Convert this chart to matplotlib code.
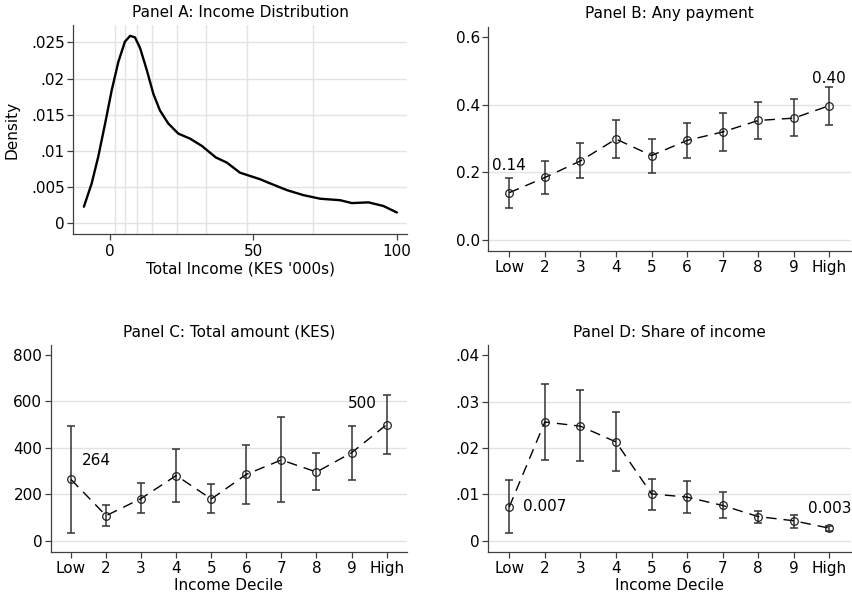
import matplotlib
matplotlib.use("Agg")
import matplotlib.pyplot as plt
import numpy as np

plt.rcParams['font.family'] = ['DejaVu Sans']

W, H = 853, 598

# Panel A: kernel density of income
dens_x = [-9.1, -6.4, -4.1, -1.7, 0.6, 2.9, 5.2, 7.0, 8.7, 10.5, 12.8, 15.1, 17.4,
          20.3, 23.8, 27.9, 32.0, 36.9, 40.7, 45.3, 52.3, 54.7, 61.6, 67.4, 73.3,
          80.2, 84.3, 90.1, 95.3, 100.0]
dens_y = [0.0023, 0.0055, 0.0092, 0.0138, 0.0184, 0.0223, 0.0251, 0.0259, 0.0257,
          0.0242, 0.0212, 0.0179, 0.0156, 0.0138, 0.0124, 0.0117, 0.0107, 0.0091,
          0.0084, 0.0070, 0.0061, 0.0057, 0.0046, 0.0039, 0.0034, 0.0032, 0.0028,
          0.0029, 0.0024, 0.0015]
decile_cuts = [1.7, 5.4, 9.3, 14.8, 23.5, 33.4, 47.6, 70.9]

deciles = ['Low', '2', '3', '4', '5', '6', '7', '8', '9', 'High']

# Panel B: any payment
b_mean = [0.140, 0.185, 0.234, 0.299, 0.250, 0.295, 0.320, 0.354, 0.361, 0.398]
b_hi = [0.183, 0.233, 0.286, 0.355, 0.300, 0.347, 0.376, 0.410, 0.417, 0.453]
b_lo = [0.096, 0.137, 0.183, 0.244, 0.199, 0.242, 0.263, 0.299, 0.307, 0.341]

# Panel C: total amount (KES)
c_mean = [264, 108, 182, 281, 180, 286, 348, 296, 379, 500]
c_hi = [494, 154, 247, 394, 243, 414, 533, 376, 496, 628]
c_lo = [33, 65, 118, 168, 121, 158, 165, 217, 260, 372]

# Panel D: share of income
d_mean = [0.0073, 0.0256, 0.0247, 0.0213, 0.0101, 0.0094, 0.0076, 0.0052, 0.0043, 0.0027]
d_hi = [0.0130, 0.0338, 0.0324, 0.0278, 0.0134, 0.0128, 0.0105, 0.0065, 0.0055, 0.0031]
d_lo = [0.0017, 0.0175, 0.0172, 0.0150, 0.0067, 0.0060, 0.0049, 0.0038, 0.0028, 0.0022]

SPINE = '#404040'
GRID = '#e3e3e3'
FS = 11

fig = plt.figure(figsize=(W / 100, H / 100), dpi=100)


def add_ax(left, right, top, bottom):
    return fig.add_axes([left / W, 1 - bottom / H, (right - left) / W, (bottom - top) / H])


def style(ax):
    for s in ['top', 'right']:
        ax.spines[s].set_visible(False)
    for s in ['left', 'bottom']:
        ax.spines[s].set_color(SPINE)
        ax.spines[s].set_linewidth(0.9)
    ax.tick_params(axis='both', colors=SPINE, labelcolor='black', labelsize=FS,
                   length=4, width=0.9, direction='out')
    ax.tick_params(axis='y', pad=2)
    ax.tick_params(axis='x', pad=3)
    ax.set_facecolor('white')


def hgrid(ax, vals):
    for v in vals:
        ax.axhline(v, color=GRID, lw=1.0, zorder=0)


# ---------- Panel A ----------
axA = add_ax(73, 407.5, 25, 234)
style(axA)
for c in decile_cuts:
    axA.axvline(c, color=GRID, lw=1.0, zorder=0)
yt = [0, 0.005, 0.01, 0.015, 0.02, 0.025]
hgrid(axA, yt)
axA.plot(dens_x, dens_y, color='black', lw=1.7, solid_joinstyle='round',
         solid_capstyle='round', zorder=3)
axA.set_xlim(-12.9, 103.7)
axA.set_ylim(-0.00147, 0.0274)
axA.set_xticks([0, 50, 100])
axA.set_yticks(yt)
axA.set_yticklabels(['0', '.005', '.01', '.015', '.02', '.025'])
axA.set_xlabel("Total Income (KES '000s)", fontsize=FS, labelpad=2)
axA.set_ylabel('Density', fontsize=FS, labelpad=8)
axA.set_title('Panel A: Income Distribution', fontsize=FS, pad=6)

pos = np.arange(1, 11)


def panel(ax, mean, lo, hi, yticks, yticklabels, ylim, title, xlabel=None):
    style(ax)
    hgrid(ax, yticks[:-1])
    mean = np.array(mean, dtype=float)
    err = [mean - np.array(lo), np.array(hi) - mean]
    ax.errorbar(pos, mean, yerr=err, fmt='none', ecolor='#333333', elinewidth=1.1,
                capsize=3.2, capthick=1.1, zorder=2)
    ax.plot(pos, mean, color='black', lw=1.0, linestyle=(0, (7.5, 5)), zorder=3)
    ax.plot(pos, mean, linestyle='none', marker='o', markersize=5.5,
            markerfacecolor='none', markeredgecolor='#222222', markeredgewidth=0.9, zorder=4)
    ax.set_xlim(0.41, 10.6)
    ax.set_ylim(*ylim)
    ax.set_xticks(pos)
    ax.set_xticklabels(deciles)
    ax.set_yticks(yticks)
    ax.set_yticklabels(yticklabels)
    ax.set_title(title, fontsize=FS, pad=6)
    if xlabel:
        ax.set_xlabel(xlabel, fontsize=FS, labelpad=1)


axB = add_ax(488.3, 850.7, 26.7, 250.7)
panel(axB, b_mean, b_lo, b_hi, [0.0, 0.2, 0.4, 0.6], ['0.0', '0.2', '0.4', '0.6'],
      (-0.032, 0.632), 'Panel B: Any payment')
axB.annotate(f'{b_mean[0]:.2f}', xy=(1, b_mean[0]), xytext=(0, 19.5), textcoords='offset points',
             ha='center', va='center', fontsize=FS)
axB.annotate(f'{b_mean[-1]:.2f}', xy=(10, b_mean[-1]), xytext=(0, 19.5), textcoords='offset points',
             ha='center', va='center', fontsize=FS)

axC = add_ax(50.7, 407.3, 345, 551.7)
panel(axC, c_mean, c_lo, c_hi, [0, 200, 400, 600, 800], ['0', '200', '400', '600', '800'],
      (-47, 843), 'Panel C: Total amount (KES)', 'Income Decile')
axC.set_xlim(0.42, 10.59)
axC.annotate(f'{c_mean[0]:d}', xy=(1, c_mean[0]), xytext=(18, 14), textcoords='offset points',
             ha='center', va='center', fontsize=FS)
axC.annotate(f'{c_mean[-1]:d}', xy=(10, c_mean[-1]), xytext=(-17.5, 15), textcoords='offset points',
             ha='center', va='center', fontsize=FS)

axD = add_ax(488.3, 850.7, 345, 551.7)
panel(axD, d_mean, d_lo, d_hi, [0, 0.01, 0.02, 0.03, 0.04], ['0', '.01', '.02', '.03', '.04'],
      (-0.00237, 0.0422), 'Panel D: Share of income', 'Income Decile')
axD.annotate(f'{d_mean[0]:.3f}', xy=(1, d_mean[0]), xytext=(10, 0), textcoords='offset points',
             ha='left', va='center', fontsize=FS)
axD.annotate(f'{d_mean[-1]:.3f}', xy=(10, d_mean[-1]), xytext=(0, 14.5), textcoords='offset points',
             ha='center', va='center', fontsize=FS, annotation_clip=False)

fig.savefig('out.png', dpi=100, facecolor='white')
